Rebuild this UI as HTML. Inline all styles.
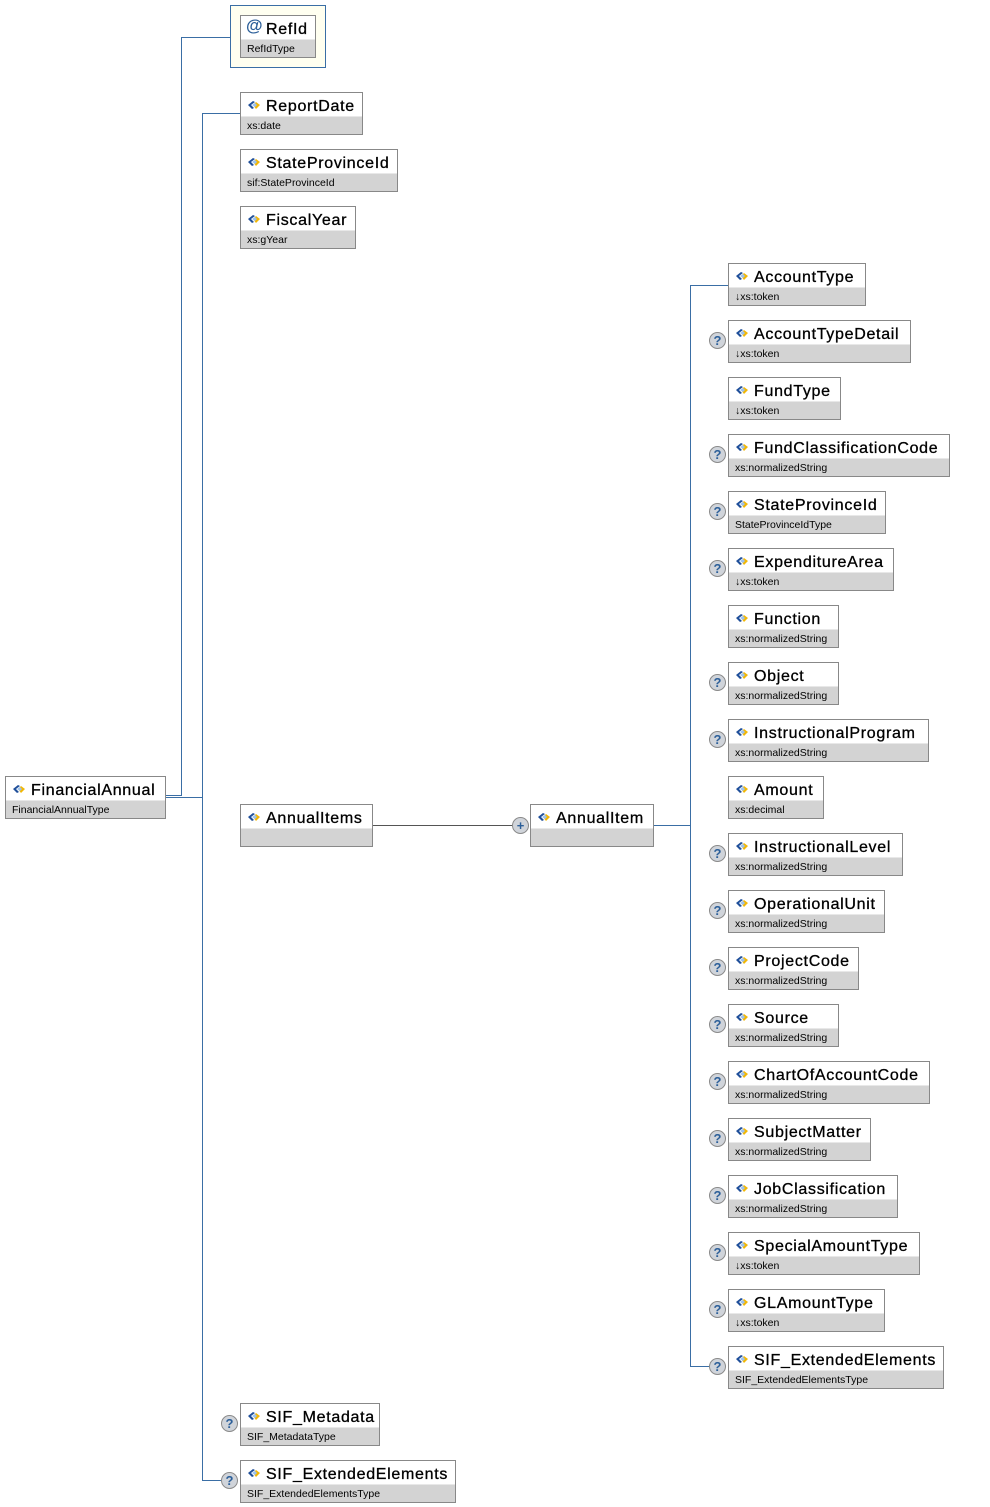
<!DOCTYPE html>
<html><head><meta charset="utf-8"><style>
body{margin:0;width:990px;height:1507px;position:relative;background:#fff;font-family:"Liberation Sans",sans-serif;overflow:hidden}
.b{position:absolute;height:41px;border:1px solid #888;background:#fff;box-sizing:border-box}
.b .n{position:absolute;left:25px;top:5px;font-size:16px;color:#000;white-space:nowrap;letter-spacing:0.7px;-webkit-text-stroke:0.3px #000}
.b .t{position:absolute;left:0;right:0;bottom:0;height:17px;background:#d3d3d3;border-top:1px solid #e8e8e8;font-size:10.5px;line-height:18px;padding-left:6px;color:#000;white-space:nowrap}
.b i{position:absolute;left:6px;top:4px;width:14px;height:10px}
.l{position:absolute;background:#3a6ea5}
.q{position:absolute;width:17px;height:17px;border-radius:50%;background:#d0d4da;border:1px solid #8a8a8a;box-sizing:border-box;color:#2c5f99;font-size:13px;font-weight:bold;text-align:center;line-height:16px}
</style></head><body>
<svg width="0" height="0" style="position:absolute"><defs><symbol id="ic" viewBox="0 0 14 10"><path d="M1 5 L6 1 L8 2 L4 5 L7 8 L5 9 Z" fill="#1f4f9a"/><path d="M6 5 L9 2 L13 5 L9 9 Z" fill="#f2b705"/><path d="M5 5 L8 3 L10 5 L8 7 Z" fill="#9cc2ee"/></symbol></defs></svg>
<div class="l" style="left:181px;top:37px;width:1px;height:759px"></div>
<div class="l" style="left:181px;top:37px;width:49px;height:1px"></div>
<div class="l" style="left:165px;top:795px;width:17px;height:1px"></div>
<div class="l" style="left:165px;top:797px;width:38px;height:1px"></div>
<div class="l" style="left:202px;top:113px;width:1px;height:1368px"></div>
<div class="l" style="left:202px;top:113px;width:38px;height:1px"></div>
<div class="l" style="left:202px;top:1480px;width:28px;height:1px"></div>
<div class="l" style="left:372px;top:825px;width:142px;height:1px;background:#555"></div>
<div class="l" style="left:653px;top:825px;width:38px;height:1px"></div>
<div class="l" style="left:690px;top:285px;width:1px;height:1082px"></div>
<div class="l" style="left:690px;top:285px;width:38px;height:1px"></div>
<div class="l" style="left:690px;top:1366px;width:20px;height:1px"></div>

<div style="position:absolute;left:230px;top:5px;width:96px;height:63px;border:1px solid #3a6ea5;box-sizing:border-box;background:#fffff0"></div>
<div class="b" style="left:240px;top:15px;width:76px;height:43px"><span style="position:absolute;left:5px;top:0;color:#2c5f99;font-size:17px;font-weight:bold">@</span><span class="n" style="top:5px">RefId</span><div class="t">RefIdType</div></div>

<div class="b" style="left:240px;top:92px;width:123px;height:43px"><i><svg width="14" height="10"><use href="#ic"/></svg></i><span class="n">ReportDate</span><div class="t">xs:date</div></div>
<div class="b" style="left:240px;top:149px;width:158px;height:43px"><i><svg width="14" height="10"><use href="#ic"/></svg></i><span class="n">StateProvinceId</span><div class="t">sif:StateProvinceId</div></div>
<div class="b" style="left:240px;top:206px;width:116px;height:43px"><i><svg width="14" height="10"><use href="#ic"/></svg></i><span class="n">FiscalYear</span><div class="t">xs:gYear</div></div>

<div class="b" style="left:5px;top:776px;width:161px;height:43px"><i><svg width="14" height="10"><use href="#ic"/></svg></i><span class="n">FinancialAnnual</span><div class="t">FinancialAnnualType</div></div>
<div class="b" style="left:240px;top:804px;width:133px;height:43px"><i><svg width="14" height="10"><use href="#ic"/></svg></i><span class="n">AnnualItems</span><div class="t"></div></div>
<div class="q" style="left:512px;top:817px">+</div>
<div class="b" style="left:530px;top:804px;width:124px;height:43px"><i><svg width="14" height="10"><use href="#ic"/></svg></i><span class="n">AnnualItem</span><div class="t"></div></div>

<div class="q" style="left:221px;top:1415px">?</div>
<div class="b" style="left:240px;top:1403px;width:140px;height:43px"><i><svg width="14" height="10"><use href="#ic"/></svg></i><span class="n">SIF_Metadata</span><div class="t">SIF_MetadataType</div></div>
<div class="q" style="left:221px;top:1472px">?</div>
<div class="b" style="left:240px;top:1460px;width:216px;height:43px"><i><svg width="14" height="10"><use href="#ic"/></svg></i><span class="n">SIF_ExtendedElements</span><div class="t">SIF_ExtendedElementsType</div></div>

<div class="b" style="left:728px;top:263px;width:138px;height:43px"><i><svg width="14" height="10"><use href="#ic"/></svg></i><span class="n">AccountType</span><div class="t">↓xs:token</div></div>
<div class="q" style="left:709px;top:332px">?</div>
<div class="b" style="left:728px;top:320px;width:183px;height:43px"><i><svg width="14" height="10"><use href="#ic"/></svg></i><span class="n">AccountTypeDetail</span><div class="t">↓xs:token</div></div>
<div class="b" style="left:728px;top:377px;width:113px;height:43px"><i><svg width="14" height="10"><use href="#ic"/></svg></i><span class="n">FundType</span><div class="t">↓xs:token</div></div>
<div class="q" style="left:709px;top:446px">?</div>
<div class="b" style="left:728px;top:434px;width:222px;height:43px"><i><svg width="14" height="10"><use href="#ic"/></svg></i><span class="n">FundClassificationCode</span><div class="t">xs:normalizedString</div></div>
<div class="q" style="left:709px;top:503px">?</div>
<div class="b" style="left:728px;top:491px;width:158px;height:43px"><i><svg width="14" height="10"><use href="#ic"/></svg></i><span class="n">StateProvinceId</span><div class="t">StateProvinceIdType</div></div>
<div class="q" style="left:709px;top:560px">?</div>
<div class="b" style="left:728px;top:548px;width:166px;height:43px"><i><svg width="14" height="10"><use href="#ic"/></svg></i><span class="n">ExpenditureArea</span><div class="t">↓xs:token</div></div>
<div class="b" style="left:728px;top:605px;width:111px;height:43px"><i><svg width="14" height="10"><use href="#ic"/></svg></i><span class="n">Function</span><div class="t">xs:normalizedString</div></div>
<div class="q" style="left:709px;top:674px">?</div>
<div class="b" style="left:728px;top:662px;width:111px;height:43px"><i><svg width="14" height="10"><use href="#ic"/></svg></i><span class="n">Object</span><div class="t">xs:normalizedString</div></div>
<div class="q" style="left:709px;top:731px">?</div>
<div class="b" style="left:728px;top:719px;width:201px;height:43px"><i><svg width="14" height="10"><use href="#ic"/></svg></i><span class="n">InstructionalProgram</span><div class="t">xs:normalizedString</div></div>
<div class="b" style="left:728px;top:776px;width:96px;height:43px"><i><svg width="14" height="10"><use href="#ic"/></svg></i><span class="n">Amount</span><div class="t">xs:decimal</div></div>
<div class="q" style="left:709px;top:845px">?</div>
<div class="b" style="left:728px;top:833px;width:175px;height:43px"><i><svg width="14" height="10"><use href="#ic"/></svg></i><span class="n">InstructionalLevel</span><div class="t">xs:normalizedString</div></div>
<div class="q" style="left:709px;top:902px">?</div>
<div class="b" style="left:728px;top:890px;width:157px;height:43px"><i><svg width="14" height="10"><use href="#ic"/></svg></i><span class="n">OperationalUnit</span><div class="t">xs:normalizedString</div></div>
<div class="q" style="left:709px;top:959px">?</div>
<div class="b" style="left:728px;top:947px;width:131px;height:43px"><i><svg width="14" height="10"><use href="#ic"/></svg></i><span class="n">ProjectCode</span><div class="t">xs:normalizedString</div></div>
<div class="q" style="left:709px;top:1016px">?</div>
<div class="b" style="left:728px;top:1004px;width:111px;height:43px"><i><svg width="14" height="10"><use href="#ic"/></svg></i><span class="n">Source</span><div class="t">xs:normalizedString</div></div>
<div class="q" style="left:709px;top:1073px">?</div>
<div class="b" style="left:728px;top:1061px;width:202px;height:43px"><i><svg width="14" height="10"><use href="#ic"/></svg></i><span class="n">ChartOfAccountCode</span><div class="t">xs:normalizedString</div></div>
<div class="q" style="left:709px;top:1130px">?</div>
<div class="b" style="left:728px;top:1118px;width:143px;height:43px"><i><svg width="14" height="10"><use href="#ic"/></svg></i><span class="n">SubjectMatter</span><div class="t">xs:normalizedString</div></div>
<div class="q" style="left:709px;top:1187px">?</div>
<div class="b" style="left:728px;top:1175px;width:170px;height:43px"><i><svg width="14" height="10"><use href="#ic"/></svg></i><span class="n">JobClassification</span><div class="t">xs:normalizedString</div></div>
<div class="q" style="left:709px;top:1244px">?</div>
<div class="b" style="left:728px;top:1232px;width:192px;height:43px"><i><svg width="14" height="10"><use href="#ic"/></svg></i><span class="n">SpecialAmountType</span><div class="t">↓xs:token</div></div>
<div class="q" style="left:709px;top:1301px">?</div>
<div class="b" style="left:728px;top:1289px;width:157px;height:43px"><i><svg width="14" height="10"><use href="#ic"/></svg></i><span class="n">GLAmountType</span><div class="t">↓xs:token</div></div>
<div class="q" style="left:709px;top:1358px">?</div>
<div class="b" style="left:728px;top:1346px;width:216px;height:43px"><i><svg width="14" height="10"><use href="#ic"/></svg></i><span class="n">SIF_ExtendedElements</span><div class="t">SIF_ExtendedElementsType</div></div>
</body></html>
